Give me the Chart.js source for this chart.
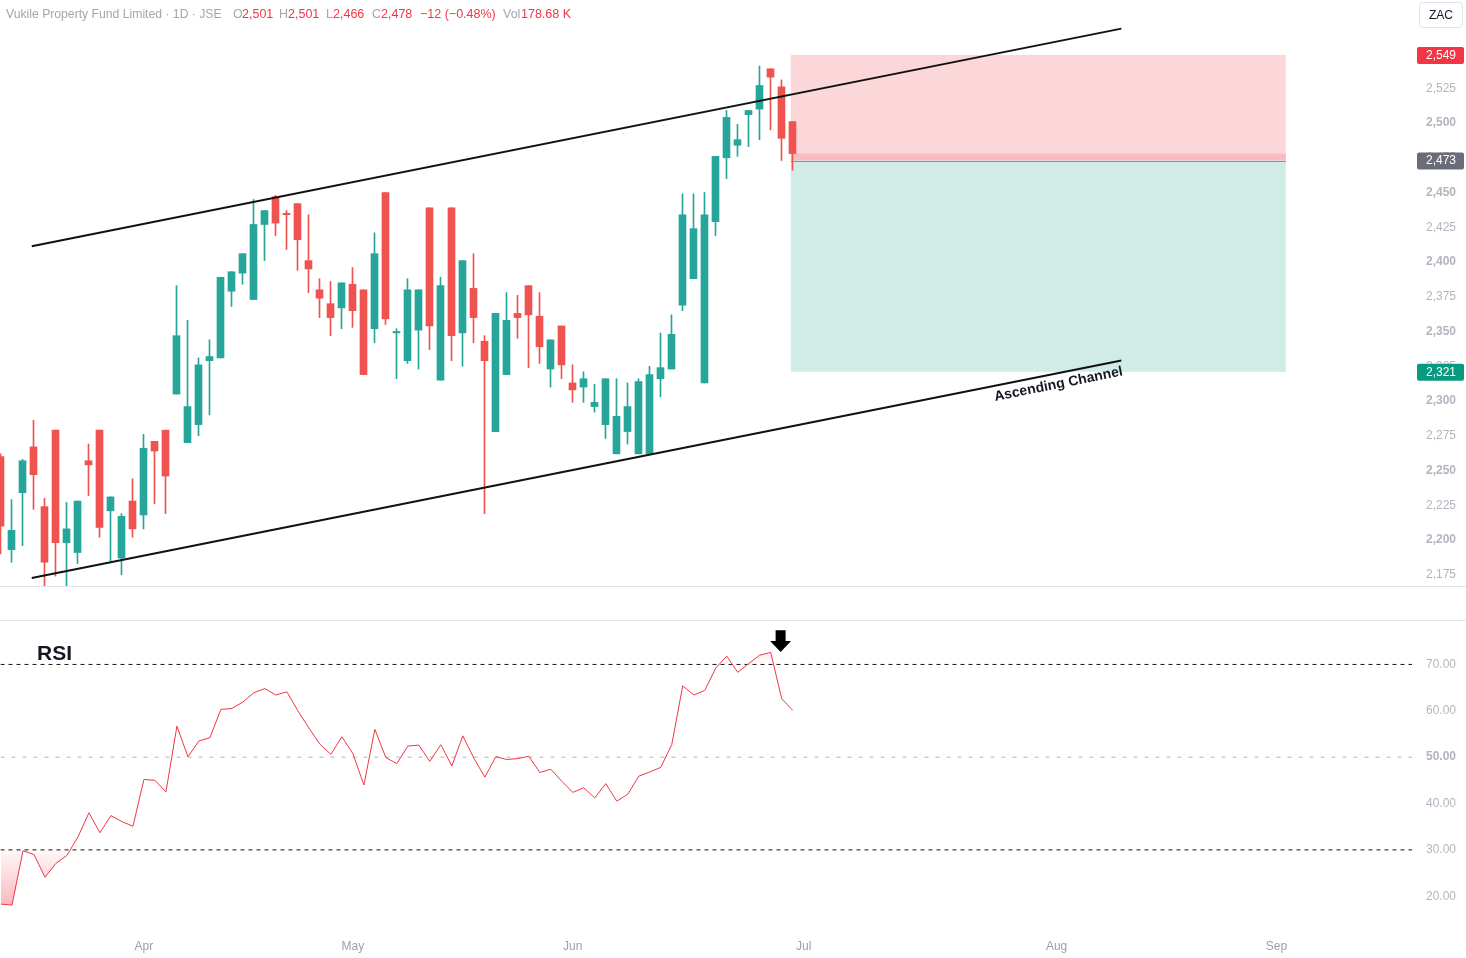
<!DOCTYPE html>
<html><head><meta charset="utf-8">
<script src="https://cdn.jsdelivr.net/npm/chart.js@4.4.1/dist/chart.umd.min.js"></script>
<style>
html,body{margin:0;padding:0;background:#fff;width:1466px;height:958px;overflow:hidden;font-family:'Liberation Sans',Arial,sans-serif}
canvas{position:absolute;left:0}
#main{top:0}
#rsi{top:620px}
.sep{position:absolute;left:0;width:1466px;height:1px;background:#E0E3EB}
.h{position:absolute;top:6px;font-size:12.5px;line-height:16px;white-space:nowrap}
.g{color:#A3A6AF}.r{color:#F23645}
#zac{position:absolute;left:1419px;top:2px;width:44px;height:26px;border:1px solid #E0E3EB;border-radius:4px;font-size:12px;line-height:24px;text-align:center;color:#131722;box-sizing:border-box}
#rsiLabel{position:absolute;left:37px;top:642px;font-weight:bold;font-size:21px;line-height:21px;color:#131722}
</style></head><body>
<canvas id="main" width="1466" height="586"></canvas>
<canvas id="rsi" width="1466" height="338"></canvas>
<div class="sep" style="top:586px"></div>
<div class="sep" style="top:620px"></div>
<div class="h g" style="left:6px;font-size:12.2px">Vukile Property Fund Limited · 1D · JSE</div>
<div class="h g" style="left:233px">O</div><div class="h r" style="left:242px">2,501</div>
<div class="h g" style="left:279px">H</div><div class="h r" style="left:288px">2,501</div>
<div class="h g" style="left:326px">L</div><div class="h r" style="left:333px">2,466</div>
<div class="h g" style="left:372px">C</div><div class="h r" style="left:381px">2,478</div>
<div class="h r" style="left:420px">−12 (−0.48%)</div>
<div class="h g" style="left:503px">Vol</div><div class="h r" style="left:521px">178.68 K</div>
<div id="zac">ZAC</div>
<div id="rsiLabel">RSI</div>
<script>
// ---- data ----
const open  = [2260,2193,2234,2267,2224,2279,2198,2191,2257,2279,2221,2187,2228,2218,2271,2279,2305,2270,2283,2329,2331,2379,2392,2373,2427,2447,2435,2442,2401,2380,2370,2367,2384,2380,2352,2450,2349,2329,2351,2439,2315,2439,2349,2381,2343,2278,2319,2363,2383,2361,2323,2354,2313,2310,2296,2283,2262,2278,2262,2262,2316,2323,2369,2388,2313,2429,2475,2484,2506,2510,2539,2526,2501];
const high  = [2262,2229,2258,2286,2230,2279,2227,2228,2269,2279,2231,2219,2244,2276,2271,2279,2383,2358,2331,2344,2389,2393,2406,2445,2437,2448,2437,2442,2434,2388,2386,2385,2396,2380,2421,2450,2352,2388,2380,2439,2389,2439,2401,2406,2347,2363,2378,2376,2383,2378,2344,2354,2326,2321,2312,2316,2316,2313,2316,2325,2349,2362,2449,2449,2450,2476,2509,2499,2509,2541,2539,2531,2501];
const low   = [2190,2184,2196,2222,2166,2174,2166,2183,2232,2202,2185,2175,2202,2208,2226,2219,2305,2270,2275,2290,2331,2368,2384,2373,2401,2419,2409,2394,2378,2360,2347,2352,2353,2319,2342,2355,2316,2327,2323,2337,2315,2329,2325,2342,2219,2278,2319,2345,2324,2327,2310,2316,2299,2299,2292,2273,2262,2269,2262,2262,2303,2323,2365,2388,2313,2419,2460,2476,2483,2488,2495,2473,2466];
const close = [2210,2207,2257,2247,2184,2198,2208,2228,2254,2209,2231,2217,2208,2266,2264,2246,2347,2296,2326,2332,2389,2393,2406,2427,2437,2428,2434,2416,2395,2374,2360,2385,2365,2319,2406,2359,2350,2380,2380,2354,2383,2347,2401,2360,2329,2363,2358,2360,2362,2339,2344,2326,2308,2316,2299,2316,2289,2296,2314,2319,2324,2348,2434,2424,2434,2476,2504,2488,2509,2527,2533,2489,2478];
const rsi   = [18.3,18.1,29.8,29.0,24.1,27.1,28.8,32.8,38.0,33.7,37.4,36.1,35.1,45.2,45.0,42.5,56.7,50.1,53.5,54.2,60.3,60.5,61.9,63.9,64.8,63.4,64.1,60.0,56.3,52.8,50.6,54.4,50.8,44.0,56.0,49.9,48.6,52.4,52.6,49.1,52.7,48.1,54.6,49.8,45.7,50.1,49.5,49.7,50.2,46.7,47.4,44.8,42.4,43.4,41.2,44.3,40.5,42.0,45.9,46.8,47.8,52.7,65.4,63.4,64.4,69.2,71.8,68.3,70.2,72.0,72.6,62.6,60.1];
const dayIndex = open.map((_, i) => i);
const monthTickIndex = [13, 32, 52, 73, 96, 116];
const monthLabels = ['Apr', 'May', 'Jun', 'Jul', 'Aug', 'Sep'];
const priceTicks = [2175,2200,2225,2250,2275,2300,2325,2350,2375,2400,2425,2450,2475,2500,2525,2550];
const rsiTicks = [20, 30, 40, 50, 60, 70];
const rsiLevels = [70, 50, 30];
const channelUpper = [{x: 2.84, y: 2411.4}, {x: 101.9, y: 2567.9}];
const channelLower = [{x: 2.84, y: 2172.7}, {x: 101.9, y: 2329.2}];
const channelLabel = 'Ascending Channel';
const positionStart = 71.85, positionEnd = 116.85;
const positionStop = 2549, positionEntry = 2473, positionTarget = 2321;
const arrowX = 70.9, arrowTip = 72.7, arrowTop = 77.4;

// ---- layout constants ----
const X_MIN = -0.045, X_MAX = 128.32;
const Y_MIN = 2166.9, Y_MAX = 2588.5;
const R_MIN = 12.72, R_MAX = 79.48;
const FONT = "'Liberation Sans', Arial, sans-serif";
const UP = '#26A69A', DOWN = '#EF5350';
Chart.defaults.font.family = FONT;
const isUp = i => close[i] >= open[i];
const fmt = v => v.toLocaleString('en-US');

const positionPlugin = {
  id: 'positionBox',
  beforeDatasetsDraw(chart) {
    const {ctx, scales: {x, y}} = chart;
    const x0 = x.getPixelForValue(positionStart), x1 = x.getPixelForValue(positionEnd);
    const yS = y.getPixelForValue(positionStop), yE = y.getPixelForValue(positionEntry);
    const yT = y.getPixelForValue(positionTarget), yC = y.getPixelForValue(close[close.length - 1]);
    ctx.save();
    ctx.fillStyle = 'rgba(242,54,69,0.2)'; ctx.fillRect(x0, yS, x1 - x0, yE - yS);
    ctx.fillStyle = 'rgba(8,153,129,0.19)'; ctx.fillRect(x0, yE, x1 - x0, yT - yE);
    ctx.fillStyle = 'rgba(242,54,69,0.18)'; ctx.fillRect(x0, yC, x1 - x0, yE - yC);
    ctx.strokeStyle = 'rgba(120,123,134,0.8)'; ctx.lineWidth = 1;
    ctx.beginPath(); ctx.moveTo(x0, Math.round(yE) + 0.5); ctx.lineTo(x1, Math.round(yE) + 0.5); ctx.stroke();
    ctx.restore();
  }
};
const tagPlugin = {
  id: 'tags',
  afterDraw(chart) {
    const {ctx, chartArea, scales: {y}} = chart;
    const tags = [[positionStop, '#F23645'], [positionEntry, '#6A6D78'], [positionTarget, '#089981']];
    ctx.save();
    ctx.font = '12px ' + FONT; ctx.textBaseline = 'middle'; ctx.textAlign = 'left';
    for (const [v, c] of tags) {
      const py = y.getPixelForValue(v);
      ctx.fillStyle = c;
      ctx.beginPath();
      ctx.roundRect(chartArea.right + 5, py - 8, 47, 17, 2);
      ctx.fill();
      ctx.fillStyle = '#fff';
      ctx.fillText(fmt(v), chartArea.right + 14, py + 0.5);
    }
    ctx.restore();
  }
};
const channelLabelPlugin = {
  id: 'channelLabel',
  afterDatasetsDraw(chart) {
    const {ctx, scales: {x, y}} = chart;
    const p0 = {x: x.getPixelForValue(channelLower[0].x), y: y.getPixelForValue(channelLower[0].y)};
    const p1 = {x: x.getPixelForValue(channelLower[1].x), y: y.getPixelForValue(channelLower[1].y)};
    const a = Math.atan2(p1.y - p0.y, p1.x - p0.x);
    ctx.save();
    ctx.translate(p1.x, p1.y); ctx.rotate(a);
    ctx.font = 'bold 14px ' + FONT; ctx.fillStyle = '#131722';
    ctx.textAlign = 'right'; ctx.textBaseline = 'alphabetic';
    ctx.fillText(channelLabel, -1, 15);
    ctx.restore();
  }
};

new Chart(document.getElementById('main'), {
  type: 'bar',
  data: {
    datasets: [
      {type: 'bar', data: dayIndex.map(i => ({x: i, y: [low[i], high[i]]})), backgroundColor: c => isUp(c.dataIndex) ? UP : DOWN, barThickness: 1, grouped: false, order: 3, borderWidth: 0},
      {type: 'bar', data: dayIndex.map(i => ({x: i, y: [open[i], close[i]]})), backgroundColor: c => isUp(c.dataIndex) ? UP : DOWN, barThickness: 7, grouped: false, order: 2, borderWidth: 0},
      {type: 'line', data: channelUpper, borderColor: '#111', borderWidth: 2, pointRadius: 0, fill: false, order: 1},
      {type: 'line', data: channelLower, borderColor: '#111', borderWidth: 2, pointRadius: 0, fill: false, order: 1}
    ]
  },
  options: {
    responsive: false, animation: false, events: [],
    layout: {padding: 0},
    plugins: {legend: {display: false}, tooltip: {enabled: false}},
    scales: {
      x: {type: 'linear', min: X_MIN, max: X_MAX, display: false, offset: false},
      y: {
        type: 'linear', position: 'right', min: Y_MIN, max: Y_MAX,
        grid: {display: false, drawTicks: false}, border: {display: false},
        ticks: {padding: 14, color: '#B2B5BE', callback: v => fmt(v),
          font: c => ({size: 12, family: FONT, weight: (c.tick && c.tick.value % 50 === 0) ? 'bold' : 'normal'})},
        afterBuildTicks: s => { s.ticks = priceTicks.map(v => ({value: v})); },
        afterFit: s => { s.width = 54; s.paddingTop = 0; s.paddingBottom = 0; }
      }
    }
  },
  plugins: [positionPlugin, channelLabelPlugin, tagPlugin]
});

const arrowPlugin = {
  id: 'arrow',
  afterDatasetsDraw(chart) {
    const {ctx, scales: {x, y}} = chart;
    const cx = x.getPixelForValue(arrowX), yt = y.getPixelForValue(arrowTip), y0 = y.getPixelForValue(arrowTop);
    const headH = 11;
    ctx.save();
    ctx.fillStyle = '#000';
    ctx.beginPath();
    ctx.moveTo(cx - 5, y0); ctx.lineTo(cx + 5, y0); ctx.lineTo(cx + 5, yt - headH);
    ctx.lineTo(cx + 10.5, yt - headH); ctx.lineTo(cx, yt); ctx.lineTo(cx - 10.5, yt - headH);
    ctx.lineTo(cx - 5, yt - headH); ctx.closePath(); ctx.fill();
    ctx.restore();
  }
};

const rsiPts = dayIndex.map(i => ({x: i, y: rsi[i]}));
const levelDs = rsiLevels.map(v => ({
  data: [{x: X_MIN, y: v}, {x: X_MAX, y: v}],
  borderColor: v === 50 ? '#B2B5BE' : '#111', borderWidth: 1,
  borderDash: v === 50 ? [4, 7] : [4, 4], pointRadius: 0, fill: false, order: 5
}));
const rsiChart = new Chart(document.getElementById('rsi'), {
  type: 'line',
  data: {
    datasets: [
      {data: rsiPts, borderColor: '#F23645', borderWidth: 1, pointRadius: 0, tension: 0, order: 1,
        fill: {target: {value: 30}, above: 'rgba(0,0,0,0)', below: 'rgba(242,54,69,0.2)'}},
      {data: rsiPts, borderColor: 'rgba(0,0,0,0)', borderWidth: 0, pointRadius: 0, tension: 0, order: 2,
        fill: {target: {value: 70}, above: 'rgba(242,54,69,0.08)', below: 'rgba(0,0,0,0)'}},
      ...levelDs
    ]
  },
  options: {
    responsive: false, animation: false, events: [],
    layout: {padding: 0},
    plugins: {legend: {display: false}, tooltip: {enabled: false}, filler: {propagate: false}},
    scales: {
      x: {
        type: 'linear', min: X_MIN, max: X_MAX, offset: false,
        grid: {display: false, drawTicks: false}, border: {display: false},
        ticks: {padding: 9, color: '#9DA0A9', font: {size: 12, family: FONT},
          callback: v => { const k = monthTickIndex.indexOf(v); return k >= 0 ? monthLabels[k] : ''; },
          maxRotation: 0, autoSkip: false},
        afterBuildTicks: s => { s.ticks = monthTickIndex.map(v => ({value: v})); },
        afterFit: s => { s.height = 28; s.paddingLeft = 0; s.paddingRight = 0; }
      },
      y: {
        type: 'linear', position: 'right', min: R_MIN, max: R_MAX,
        grid: {display: false, drawTicks: false}, border: {display: false},
        ticks: {padding: 14, color: '#B2B5BE', callback: v => v.toFixed(2),
          font: c => ({size: 12, family: FONT, weight: (c.tick && c.tick.value === 50) ? 'bold' : 'normal'})},
        afterBuildTicks: s => { s.ticks = rsiTicks.map(v => ({value: v})); },
        afterFit: s => { s.width = 54; s.paddingTop = 0; s.paddingBottom = 0; }
      }
    }
  },
  plugins: [arrowPlugin]
});
// gradients for overbought / oversold fills
(function () {
  const {ctx, scales: {y}} = rsiChart;
  const g1 = ctx.createLinearGradient(0, y.getPixelForValue(30), 0, y.getPixelForValue(18));
  g1.addColorStop(0, 'rgba(242,54,69,0.03)');
  g1.addColorStop(1, 'rgba(242,54,69,0.35)');
  const g2 = ctx.createLinearGradient(0, y.getPixelForValue(70), 0, y.getPixelForValue(74));
  g2.addColorStop(0, 'rgba(242,54,69,0.02)');
  g2.addColorStop(1, 'rgba(242,54,69,0.12)');
  rsiChart.data.datasets[0].fill.below = g1;
  rsiChart.data.datasets[1].fill.above = g2;
  rsiChart.update('none');
})();
</script>
</body></html>
